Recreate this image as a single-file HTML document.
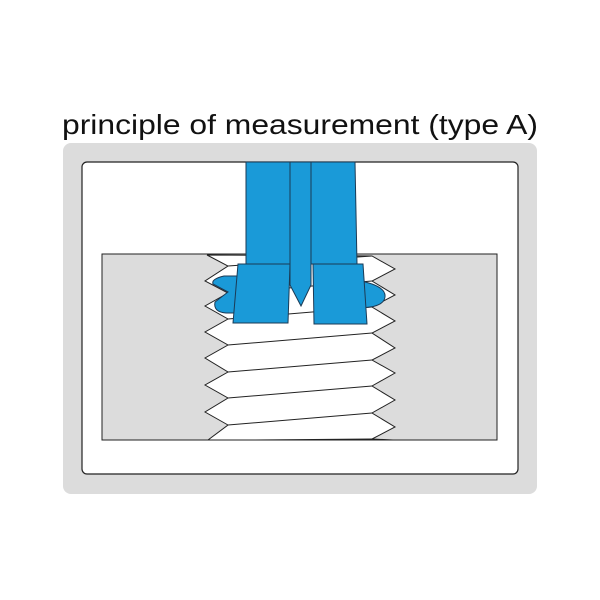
<!DOCTYPE html>
<html><head><style>html,body{margin:0;padding:0;background:#fff;width:600px;height:600px;overflow:hidden}</style></head>
<body>
<svg width="600" height="600" viewBox="0 0 600 600" xmlns="http://www.w3.org/2000/svg">
<text x="62" y="134" font-family="Liberation Sans, sans-serif" font-size="28" fill="#111" textLength="476" lengthAdjust="spacingAndGlyphs">principle of measurement (type A)</text>
<rect x="63" y="143" width="474" height="351" rx="8" fill="#dcdcdc"/>
<rect x="82" y="162" width="436" height="312" rx="5" fill="#fff" stroke="#222" stroke-width="1.2"/>
<rect x="102" y="254" width="395" height="186" fill="#dcdcdc" stroke="#222" stroke-width="1"/>
<polygon fill="#fff" stroke="#222" stroke-width="1" points="207,255 228,266 205,281 228,293 205,306 228,319 205,332 228,345 205,358 228,372 205,385 228,398 205,412 228,425 208,440 393,440 372,439 395,427 372,413 395,400 372,386 395,373 372,360 395,348 372,333 395,321 372,307 395,295 372,281 395,269 372,256"/>
<g stroke="#222" stroke-width="1" fill="none">
<line x1="228" y1="266" x2="372" y2="256"/>
<line x1="228" y1="293" x2="372" y2="281"/>
<line x1="228" y1="319" x2="372" y2="307"/>
<line x1="228" y1="345" x2="372" y2="333"/>
<line x1="228" y1="372" x2="372" y2="360"/>
<line x1="228" y1="398" x2="372" y2="386"/>
<line x1="228" y1="425" x2="372" y2="413"/>
<line x1="255" y1="440" x2="372" y2="439"/>
</g>
<g fill="#1a9ad8" stroke="#1b3a55" stroke-width="1">
<path d="M240,276 L224,276 Q211,279 213,284 L228,292 L215,302 Q213,312 226,313 L240,313 Z"/>
<path d="M362,281 L372,284 Q386,289 385,297 Q384,305 370,307 L362,308 Z"/>
<polygon points="246,162 290,162 290,264 246,264"/>
<polygon points="311,162 355,162 357,264 311,264"/>
<polygon points="290,162 311,162 311,285 301,306 290,285"/>
<polygon points="238,264 290,264 288,323 233,323"/>
<polygon points="313,264 363,264 367,324 314,324"/>
</g>
</svg>
</body></html>
